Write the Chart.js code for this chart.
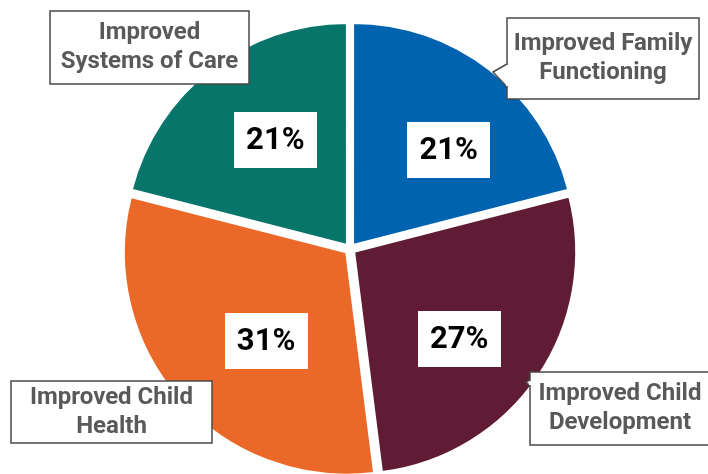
<!DOCTYPE html>
<html>
<head>
<meta charset="utf-8">
<script src="https://cdn.jsdelivr.net/npm/chart.js@4/dist/chart.umd.min.js"></script>
<style>
html,body{margin:0;padding:0;background:#fff;}
#wrap{width:708px;height:474px;position:relative;}
</style>
</head>
<body>
<div id="wrap"><canvas id="c" width="708" height="474"></canvas></div>
<script>
const categories = ["Improved Family Functioning", "Improved Child Development", "Improved Child Health", "Improved Systems of Care"];
const calloutLines = [["Improved Family", "Functioning"], ["Improved Child", "Development"], ["Improved Child", "Health"], ["Improved", "Systems of Care"]];
const values = [21, 27, 31, 21];
const colors = ["#0063AF", "#5F1C34", "#EA6928", "#08756A"];

// label styling (positions relative to arc geometry / canvas layout)
const pctStyle = { radiusFactor: 0.6, nudges: [[17, 6], [-1, 15], [16, 4], [7, -4]], w: 83, h: 56 };
const calloutBoxes = [
  { x: 507, y: 18, w: 192, h: 81, pointer: [[507, 64], [493, 72], [507, 87]] },
  { x: 530, y: 372, w: 185, h: 73, pointer: [[530, 380], [526, 382], [530, 386]] },
  { x: 11, y: 381, w: 201, h: 62 },
  { x: 50, y: 11, w: 199, h: 73 }
];

const labelPlugin = {
  id: 'labels',
  afterDatasetsDraw(chart) {
    const ctx = chart.ctx;
    const meta = chart.getDatasetMeta(0);
    ctx.save();
    meta.data.forEach((arc, i) => {
      const p = arc.getProps(['x', 'y', 'startAngle', 'endAngle', 'outerRadius'], true);
      const mid = (p.startAngle + p.endAngle) / 2;
      const cx = p.x + Math.cos(mid) * p.outerRadius * pctStyle.radiusFactor + pctStyle.nudges[i][0];
      const cy = p.y + Math.sin(mid) * p.outerRadius * pctStyle.radiusFactor + pctStyle.nudges[i][1];
      ctx.fillStyle = '#ffffff';
      ctx.fillRect(Math.round(cx - pctStyle.w / 2), Math.round(cy - pctStyle.h / 2), pctStyle.w, pctStyle.h);
      ctx.fillStyle = '#000000';
      ctx.font = 'bold 31px Roboto';
      ctx.textAlign = 'center';
      ctx.textBaseline = 'middle';
      ctx.fillText(values[i] + '%', cx, cy + 1);
    });
    // callouts
    calloutBoxes.forEach((b, i) => {
      ctx.fillStyle = '#ffffff';
      ctx.strokeStyle = '#4a4a4a';
      ctx.lineWidth = 1.5;
      ctx.beginPath();
      ctx.rect(b.x, b.y, b.w, b.h);
      ctx.fill();
      ctx.stroke();
      if (b.pointer) {
        ctx.beginPath();
        ctx.moveTo(b.pointer[0][0], b.pointer[0][1]);
        ctx.lineTo(b.pointer[1][0], b.pointer[1][1]);
        ctx.lineTo(b.pointer[2][0], b.pointer[2][1]);
        ctx.fill();
        ctx.stroke();
        ctx.fillRect(b.pointer[0][0] - 1, b.pointer[0][1] + 1, 3, b.pointer[2][1] - b.pointer[0][1] - 2);
      }
      ctx.fillStyle = '#595959';
      ctx.font = 'bold 24px Roboto';
      ctx.textAlign = 'center';
      ctx.textBaseline = 'middle';
      const lines = calloutLines[i];
      const lh = 29;
      const tx = b.x + (i === 1 ? 90 : b.w / 2);
      const ty0 = b.y + b.h / 2 - lh * (lines.length - 1) / 2;
      lines.forEach((ln, k) => ctx.fillText(ln, tx, ty0 + k * lh));
    });
    ctx.restore();
  }
};

new Chart(document.getElementById('c'), {
  type: 'pie',
  data: {
    labels: categories,
    datasets: [{
      data: values,
      backgroundColor: colors,
      borderColor: '#ffffff',
      borderWidth: 2,
      offset: 20,
      hoverOffset: 0
    }]
  },
  options: {
    responsive: false,
    animation: false,
    events: [],
    radius: 222,
    layout: { padding: { top: 24, bottom: 0, left: 0, right: 8 } },
    plugins: { legend: { display: false }, tooltip: { enabled: false } }
  },
  plugins: [labelPlugin]
});
</script>
</body>
</html>
